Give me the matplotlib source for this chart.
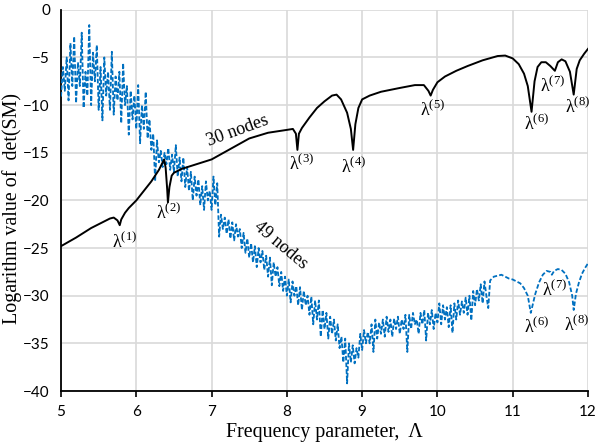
import numpy as np
import matplotlib
matplotlib.use("Agg")
import matplotlib.pyplot as plt

plt.rcParams['mathtext.fontset'] = 'stix'
plt.rcParams['mathtext.default'] = 'regular'

# 30 nodes (black curve)
x30 = [5.0, 5.2, 5.4, 5.55, 5.65, 5.7, 5.75, 5.78, 5.8, 5.85, 5.9, 6.0, 6.1, 6.2,
       6.3, 6.37, 6.39, 6.41, 6.42, 6.44, 6.47, 6.5, 6.6, 6.8, 7.0, 7.25, 7.5,
       7.75, 8.0, 8.08, 8.12, 8.14, 8.16, 8.2, 8.3, 8.4, 8.5, 8.6, 8.66, 8.72,
       8.8, 8.85, 8.88, 8.91, 8.95, 9.0, 9.1, 9.25, 9.5, 9.7, 9.82, 9.88, 9.91,
       9.94, 10.0, 10.1, 10.25, 10.4, 10.6, 10.8, 10.9, 11.0, 11.08, 11.15, 11.2,
       11.25, 11.29, 11.33, 11.38, 11.44, 11.5, 11.56, 11.6, 11.65, 11.7, 11.76,
       11.81, 11.85, 11.89, 11.95, 12.0]
y30 = [-24.8, -23.9, -22.9, -22.3, -21.9, -21.8, -22.1, -22.6, -22.0, -21.3, -20.8,
       -20.0, -19.0, -18.0, -16.8, -15.7, -16.6, -18.8, -20.2, -18.6, -17.4, -17.1,
       -16.7, -16.2, -15.7, -14.6, -13.5, -12.9, -12.6, -12.5, -13.0, -14.7, -13.0,
       -12.4, -11.3, -10.3, -9.6, -9.0, -8.9, -9.4, -10.8, -12.5, -14.7, -12.0,
       -10.3, -9.4, -9.0, -8.6, -8.2, -7.9, -7.9, -8.5, -9.0, -8.4, -7.6, -7.0,
       -6.4, -5.9, -5.3, -4.85, -4.8, -5.1, -5.7, -6.7, -8.0, -10.7, -7.5, -6.0,
       -5.5, -5.5, -5.9, -6.4, -5.5, -5.2, -5.4, -6.5, -8.9, -6.2, -5.3, -4.6, -4.1]

# 49 nodes (blue dashed curve), noisy part sampled every 0.025 from 5.0 to 10.7
y49_noisy = [
    -9.1, -6.0, -8.5, -5.0, -9.5, -3.5, -8.0, -2.8, -9.8, -5.5,
    -8.0, -2.4, -10.3, -6.5, -9.0, -1.6, -10.0, -4.5, -7.5, -3.7,
    -10.5, -6.0, -11.6, -5.0, -9.0, -6.5, -10.5, -4.4, -11.0, -7.0,
    -9.5, -6.5, -11.9, -5.6, -10.0, -8.0, -13.1, -8.5, -11.5, -9.0,
    -12.5, -7.9, -14.0, -10.0, -12.5, -8.6, -13.5, -11.5, -14.7, -13.0,
    -18.0, -13.7, -16.0, -14.8, -16.5, -15.0, -16.2, -14.5, -16.8, -15.2,
    -17.0, -14.2, -17.5, -15.5, -18.0, -15.5, -18.6, -16.5, -19.0, -17.0,
    -20.0, -17.5, -19.5, -17.8, -20.5, -18.5, -21.0, -18.0, -20.0, -19.0,
    -21.0, -17.5, -20.5, -18.2, -23.8, -21.5, -23.0, -21.8, -23.5, -22.0,
    -24.0, -22.3, -24.2, -22.5, -23.8, -23.0, -25.0, -23.4, -25.5, -24.0,
    -26.0, -24.5, -26.5, -24.8, -27.0, -25.0, -26.5, -25.3, -27.3, -25.8,
    -28.0, -26.0, -28.9, -26.5, -28.0, -27.0, -29.0, -27.5, -29.5, -28.0,
    -30.0, -28.3, -30.7, -28.5, -30.0, -29.0, -31.0, -29.1, -31.5, -29.5,
    -31.0, -30.0, -32.0, -30.1, -33.0, -30.5, -32.5, -30.5, -34.3, -31.5,
    -33.5, -31.8, -34.5, -32.2, -34.0, -32.5, -34.7, -33.0, -35.5, -34.3,
    -37.0, -34.5, -39.2, -35.0, -37.0, -35.2, -37.1, -35.5, -36.5, -34.0,
    -35.7, -33.6, -35.0, -33.8, -35.0, -33.0, -35.9, -32.5, -34.5, -32.8,
    -34.0, -32.5, -34.3, -32.2, -33.8, -32.5, -34.3, -32.4, -33.5, -32.2,
    -34.0, -32.5, -33.5, -32.0, -35.9, -32.0, -33.5, -31.8, -33.0, -32.5,
    -34.0, -31.8, -33.0, -31.5, -34.7, -31.8, -33.0, -31.5, -33.5, -31.8,
    -32.8, -30.8, -33.0, -31.0, -32.5, -31.2, -33.3, -31.0, -33.9, -30.8,
    -32.5, -30.5, -32.0, -30.6, -31.8, -30.2, -32.0, -30.0, -32.6, -29.5,
    -31.0, -29.3, -30.5, -28.8, -30.8, -28.5, -30.0, -31.3, -28.4]
x49_noisy = np.linspace(5.0, 10.7, len(y49_noisy))

x49_smooth = [10.75, 10.8, 10.85, 10.9, 10.95, 11.0, 11.05, 11.1, 11.15, 11.2,
              11.24, 11.27, 11.3, 11.35, 11.4, 11.45, 11.5, 11.52, 11.55, 11.6,
              11.65, 11.7, 11.75, 11.79, 11.81, 11.84, 11.88, 11.92, 11.96, 12.0]
y49_smooth = [-28.0, -27.9, -27.8, -28.0, -28.2, -28.3, -28.5, -28.7, -29.2, -30.0,
              -31.8, -30.8, -29.8, -28.6, -27.8, -27.4, -27.5, -27.8, -27.4, -27.2,
              -27.3, -27.7, -28.6, -30.0, -31.5, -29.8, -28.6, -27.7, -27.1, -26.6]

x49 = np.concatenate([x49_noisy, x49_smooth])
y49 = np.concatenate([y49_noisy, y49_smooth])

# eigenvalue labels: (index, x, y)
lam_labels = [
    (1, 5.85, -24.4), (2, 6.43, -21.3), (3, 8.2, -16.2), (4, 8.89, -16.5),
    (5, 9.93, -10.5), (6, 11.32, -12.0), (7, 11.53, -8.0), (8, 11.86, -10.2),
    (6, 11.32, -33.3), (7, 11.55, -29.4), (8, 11.85, -33.1),
]

fig = plt.figure(figsize=(6.0, 4.46), dpi=100)
ax = fig.add_axes([0.1017, 0.1233, 0.8783, 0.8547])

ax.plot(x49, y49, color='#0070c0', lw=1.3, ls=(0, (2.5, 1.2)), zorder=3)
ax.plot(x30, y30, color='black', lw=1.4, zorder=4)

ax.set_xlim(5, 12)
ax.set_ylim(-40, 0)
ax.set_xticks(range(5, 13))
ax.set_yticks(range(-40, 1, 5))
ax.grid(True, color='#d9d9d9', lw=1.2)
ax.set_axisbelow(True)

for s in ['top', 'right']:
    ax.spines[s].set_visible(False)
for s in ['left', 'bottom']:
    ax.spines[s].set_color('black')
    ax.spines[s].set_linewidth(1.3)

ax.tick_params(axis='x', direction='out', length=4, width=1.2, pad=6)
ax.tick_params(axis='y', length=0, pad=8)
for lab in ax.get_xticklabels() + ax.get_yticklabels():
    lab.set_fontfamily('Lato')
    lab.set_fontsize(11)

ax.set_xlabel('Frequency parameter,  Λ', family='Liberation Serif', fontsize=14.4, labelpad=3)
ax.set_ylabel('Logarithm value of  det(SM)', family='Liberation Serif', fontsize=14.4)
ax.yaxis.set_label_coords(-0.074, 0.478)

for n, tx, ty in lam_labels:
    ax.text(tx, ty, 'λ$^{(%d)}$' % n, family='Liberation Serif', fontsize=13,
            ha='center', va='center', zorder=5)

ax.text(7.35, -12.7, '30 nodes', family='Liberation Serif', fontsize=13,
        rotation=20, ha='center', va='center', zorder=5)
ax.text(7.92, -24.7, '49 nodes', family='Liberation Serif', fontsize=13,
        rotation=-40, ha='center', va='center', zorder=5)

fig.savefig('out.png', dpi=100)
